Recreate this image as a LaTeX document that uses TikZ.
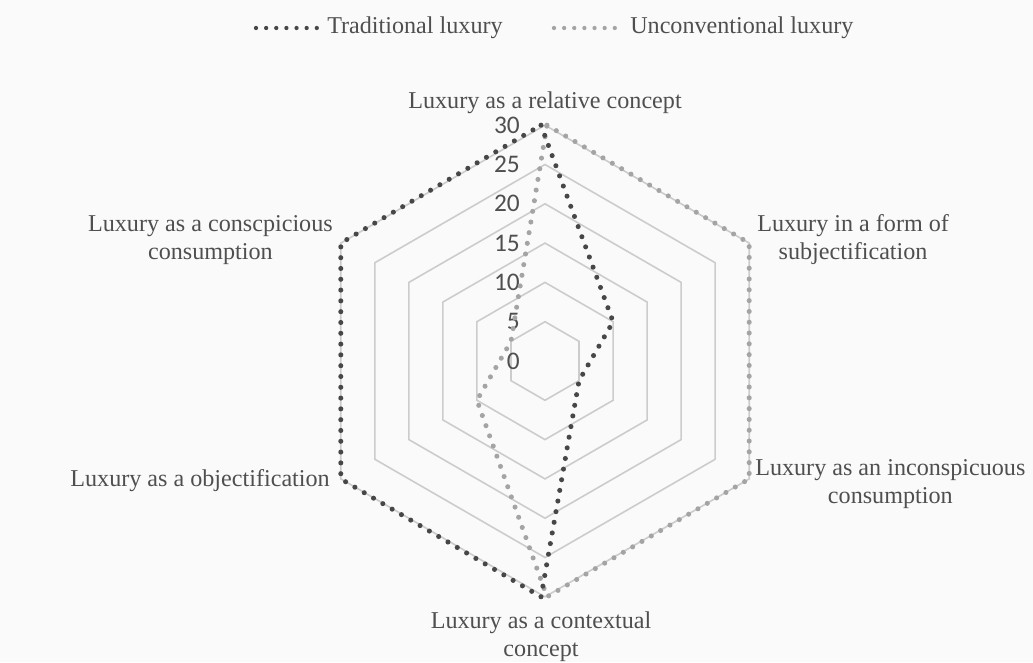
\documentclass[tikz,border=0pt]{standalone}
\usepackage{fontspec}
\setmainfont{Liberation Serif}
\newfontfamily\tickfont{Carlito}
\usetikzlibrary{calc}

\definecolor{labelgray}{HTML}{4F4F4F}
\definecolor{seriesdark}{HTML}{474747}
\definecolor{serieslight}{HTML}{A4A4A4}
\definecolor{ringgray}{HTML}{CCCCCC}
\definecolor{paper}{HTML}{FAFAFA}

\tikzset{
  axislabel/.style={font=\fontsize{18.1}{21}\selectfont, text=labelgray, align=center, inner sep=0pt},
  ticklabel/.style={font=\tickfont\fontsize{19}{21}\selectfont, text=labelgray, anchor=east, inner sep=0pt},
  ring/.style={draw=ringgray, line width=1.2pt},
  dotline/.style={line width=3.8pt, line cap=round, line join=round, dash pattern=on 0pt off 8.1pt},
  tradline/.style={dotline, draw=seriesdark},
  unconvline/.style={dotline, draw=serieslight},
  legendline/.style={line width=3.2pt, line cap=round, dash pattern=on 0pt off 7.6pt},
}

\begin{document}
\begin{tikzpicture}[x=0.75pt, y=0.75pt]
  % canvas
  \fill[paper] (0,0) rectangle (1033,662);
  \useasboundingbox (0,0) rectangle (1033,662);

  \coordinate (C) at (545,301);
  \def\unit{7.86}

  % grid rings at 5, 10, ..., 30
  \foreach \v in {5,10,...,30} {
    \draw[ring] ($(C)+(90:\v*\unit)$) -- ($(C)+(30:\v*\unit)$) -- ($(C)+(-30:\v*\unit)$)
      -- ($(C)+(-90:\v*\unit)$) -- ($(C)+(-150:\v*\unit)$) -- ($(C)+(150:\v*\unit)$) -- cycle;
  }

  % tick values along the upper axis
  \foreach \v in {0,5,...,30} {
    \node[ticklabel] (tick\v) at ($(C)+(-25,\v*\unit)$) {\v};
  }

  % Traditional luxury: 30, 10, 5, 30, 30, 30
  \coordinate (t1) at ($(C)+(90:30*\unit)+(-4,0)$);
  \coordinate (t2) at ($(C)+(30:10*\unit)$);
  \coordinate (t3) at ($(C)+(-30:5*\unit)$);
  \coordinate (t4) at ($(C)+(-90:30*\unit)+(-4,0)$);
  \coordinate (t5) at ($(C)+(-150:30*\unit)$);
  \coordinate (t6) at ($(C)+(150:30*\unit)$);

  % Unconventional luxury: 30, 30, 30, 30, 10, 5
  \coordinate (u1) at ($(C)+(90:30*\unit)+(2,0)$);
  \coordinate (u2) at ($(C)+(30:30*\unit)$);
  \coordinate (u3) at ($(C)+(-30:30*\unit)$);
  \coordinate (u4) at ($(C)+(-90:30*\unit)+(2,0)$);
  \coordinate (u5) at ($(C)+(-150:10*\unit)$);
  \coordinate (u6) at ($(C)+(150:5*\unit)$);

  \draw[unconvline] (u1) -- (u2) -- (u3) -- (u4) -- (u5) -- (u6) -- cycle;
  \draw[tradline] (t1) -- (t2) -- (t3) -- (t4) -- (t5) -- (t6) -- cycle;

  % axis labels
  \node[axislabel, anchor=base] (lab1) at (545,553) {Luxury as a relative concept};
  \node[axislabel, anchor=west] (lab2) at (757,422) {Luxury in a form of\\subjectification};
  \node[axislabel, anchor=west] (lab3) at (755,178) {Luxury as an inconspicuous\\consumption};
  \node[axislabel, anchor=north] (lab4) at (541,51) {Luxury as a contextual\\concept};
  \node[axislabel, anchor=east] (lab5) at (330,181) {Luxury as a objectification};
  \node[axislabel, anchor=east] (lab6) at (333,422) {Luxury as a conscpicious\\consumption};

  % legend
  \coordinate (lg1a) at (256,634);
  \coordinate (lg1b) at (320,634);
  \coordinate (lg2a) at (554,634);
  \coordinate (lg2b) at (620,634);
  \draw[legendline, draw=seriesdark] (lg1a) -- (lg1b);
  \draw[legendline, draw=serieslight] (lg2a) -- (lg2b);
  \node[axislabel, anchor=west] (leg1) at (327,634) {Traditional luxury};
  \node[axislabel, anchor=west] (leg2) at (630,634) {Unconventional luxury};
\end{tikzpicture}
\end{document}
